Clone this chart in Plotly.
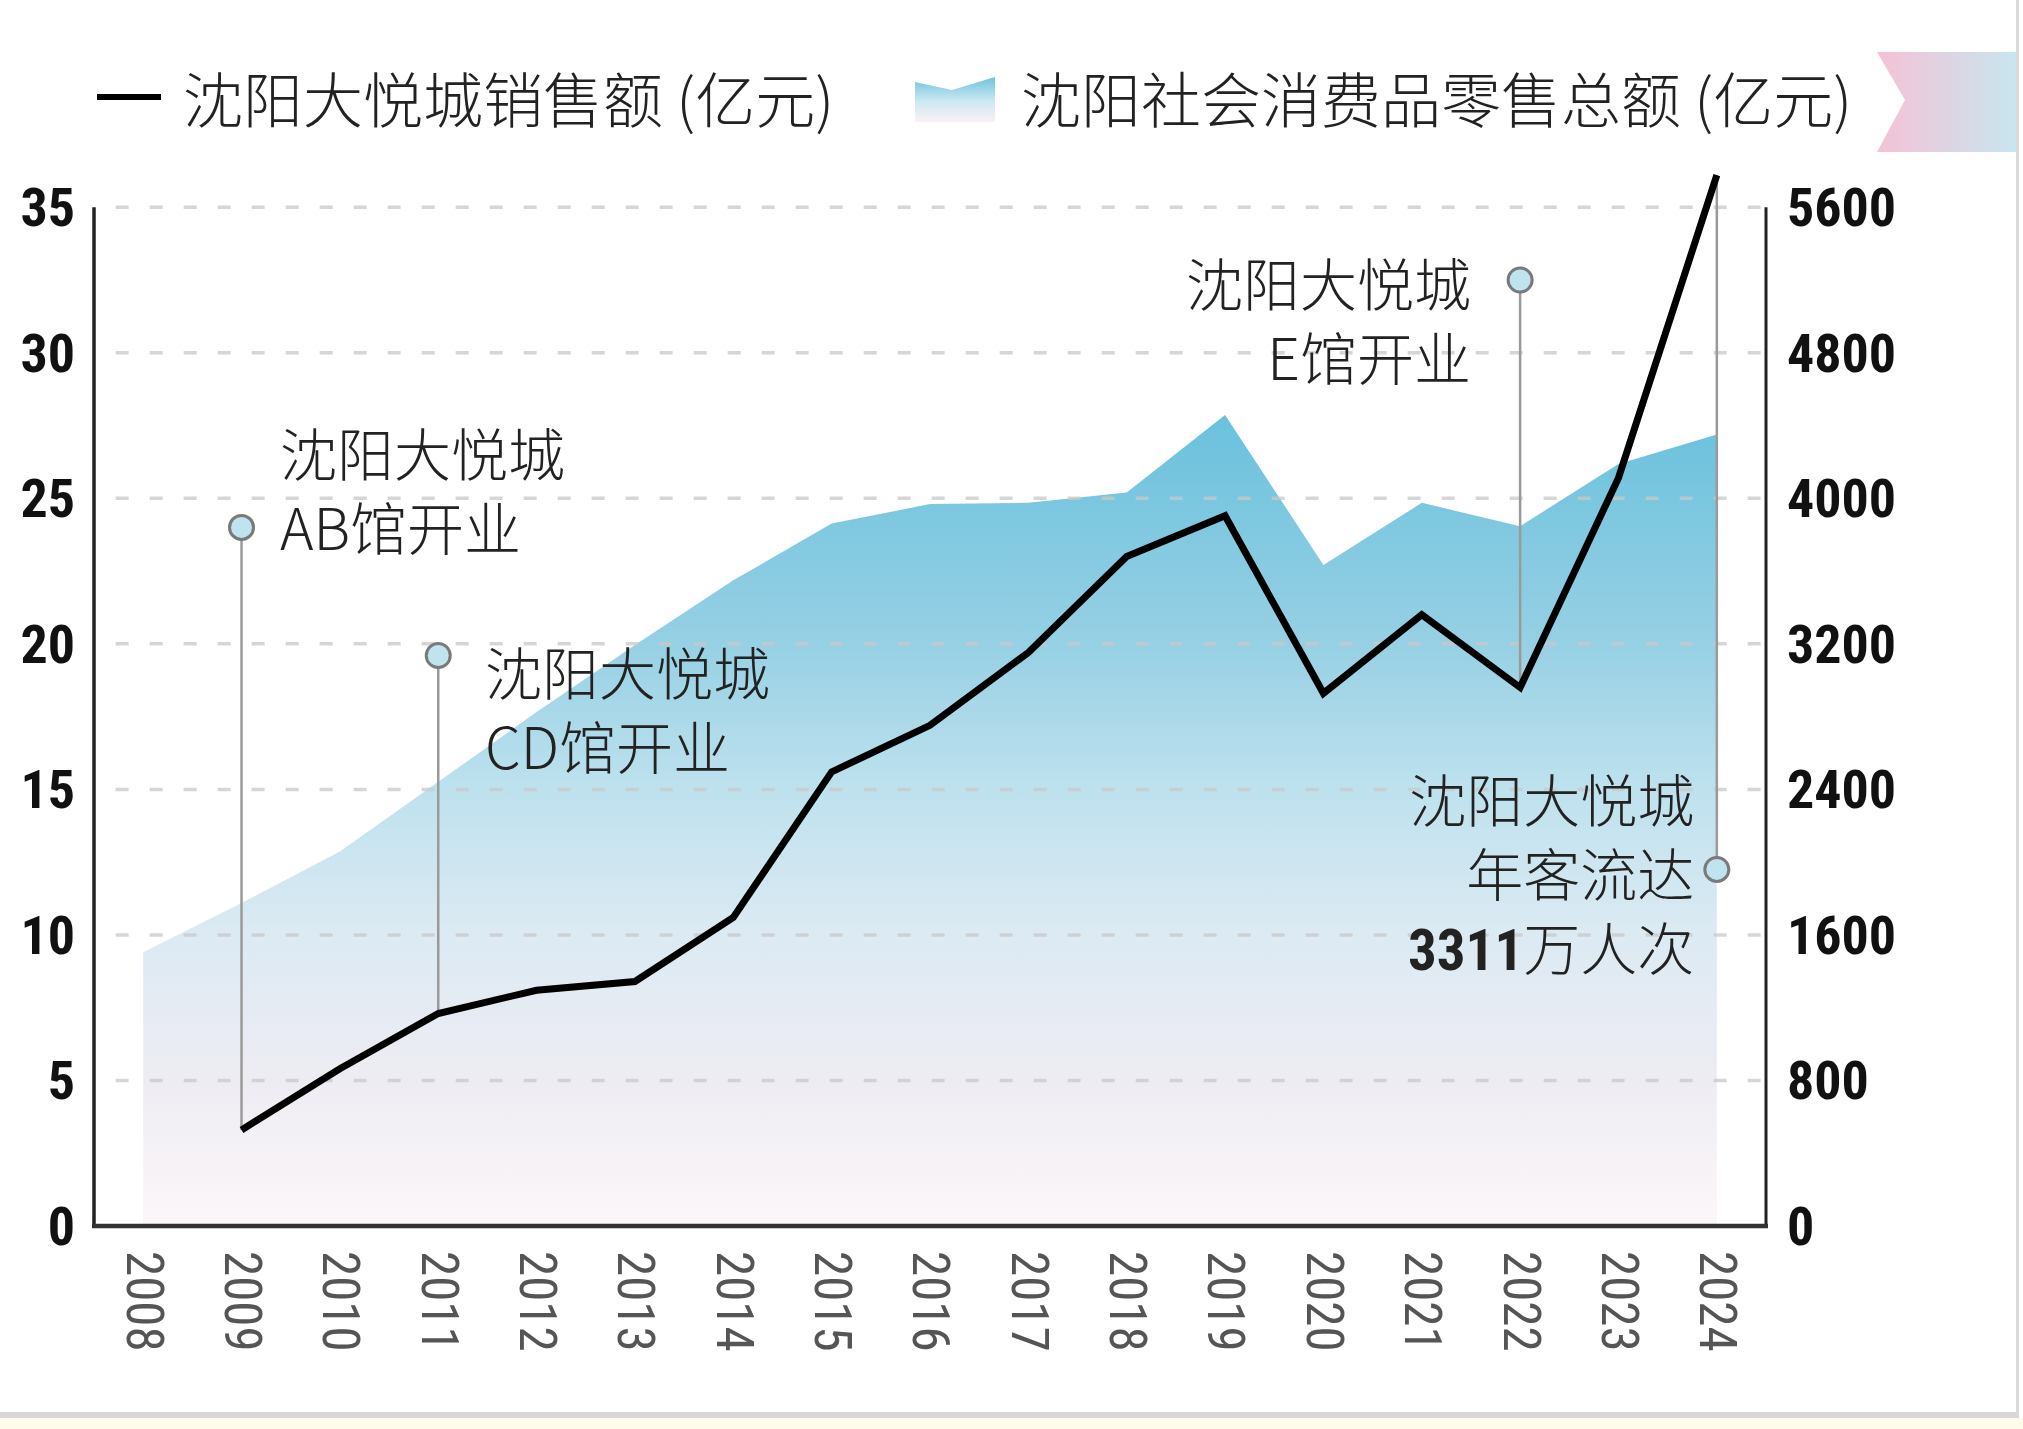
import base64
import plotly.graph_objects as go

# ---------------- data ----------------
years = list(range(2008, 2025))
mall_sales = [None, 3.3, 5.4, 7.3, 8.1, 8.4, 10.6, 15.6, 17.2, 19.7, 23.0, 24.4,
              18.3, 21.0, 18.5, 25.7, 36.1]          # 沈阳大悦城销售额 (亿元)
retail_total = [1505, 1775, 2058, 2442, 2825, 3194, 3549, 3861, 3968, 3975, 4032,
                4458, 3634, 3975, 3847, 4188, 4351]  # 沈阳社会消费品零售总额 (亿元)

left_ticks = [0, 5, 10, 15, 20, 25, 30, 35]
right_ticks = [0, 800, 1600, 2400, 3200, 4000, 4800, 5600]

legend_labels = ["沈阳大悦城销售额 (亿元)", "沈阳社会消费品零售总额 (亿元)"]

NARROW = "Liberation Sans Narrow, Roboto Condensed, DejaVu Sans Condensed, Arial Narrow, sans-serif"

event_years = [2009, 2011, 2022, 2024]
event_marker_y = [24.0, 19.6, 32.5, 12.25]
event_texts = [
    ["沈阳大悦城", "AB馆开业"],
    ["沈阳大悦城", "CD馆开业"],
    ["沈阳大悦城", "E馆开业"],
    ["沈阳大悦城", "年客流达",
     "<span style='font-family:" + NARROW + ";font-weight:bold'>3311</span>万人次"],
]

# ---------------- geometry ----------------
W, H = 2023, 1429
ML, MR, MT, MB = 94, 257, 149, 203
PW, PH = W - ML - MR, H - MT - MB
LEFT_MAX = 37.0
RIGHT_MAX = LEFT_MAX * 160


def px(x):
    return (x - ML) / PW


def py(y):
    return (H - MB - y) / PH


CJK = "Noto Sans CJK SC"
TXT = "#222222"

fig = go.Figure()

# area (primary y, right side)
fig.add_trace(go.Scatter(
    x=years, y=retail_total, yaxis="y", mode="lines", line=dict(width=0),
    fill="tozeroy",
    fillgradient=dict(type="vertical", colorscale=[
        [0.0, "rgb(252,247,249)"],
        [0.18, "rgb(238,236,243)"],
        [0.36, "rgb(220,234,243)"],
        [0.54, "rgb(190,225,238)"],
        [0.72, "rgb(150,208,228)"],
        [1.0, "rgb(106,193,221)"],
    ]),
    hoverinfo="skip", showlegend=False,
))

# dashed grid lines drawn over the area
for t in right_ticks[1:]:
    fig.add_trace(go.Scatter(
        x=[2007.72, 2024.45], y=[t, t], yaxis="y", mode="lines",
        line=dict(color="rgba(200,200,200,0.75)", width=3.5, dash="13px,21px"),
        hoverinfo="skip", showlegend=False,
    ))

# connector lines (left axis)
sales_by_year = dict(zip(years, mall_sales))
for yr, my in zip(event_years, event_marker_y):
    fig.add_trace(go.Scatter(
        x=[yr, yr], y=[sales_by_year[yr], my], yaxis="y2", mode="lines",
        line=dict(color="#9a9a9a", width=2.5),
        hoverinfo="skip", showlegend=False,
    ))

# main line
fig.add_trace(go.Scatter(
    x=years, y=mall_sales, yaxis="y2", mode="lines",
    line=dict(color="#000000", width=7), connectgaps=False,
    hoverinfo="skip", showlegend=False,
))

# event markers
fig.add_trace(go.Scatter(
    x=event_years, y=event_marker_y, yaxis="y2", mode="markers",
    marker=dict(size=24, color="#bfe3ef", line=dict(color="#7a7a7a", width=3)),
    hoverinfo="skip", showlegend=False,
))

# ---------------- annotations ----------------
ann = []
placements = [
    (2009.37, 25.36, "left"),
    (2011.46, 17.84, "left"),
    (2021.52, 31.19, "right"),
    (2023.79, 12.20, "right"),
]
for lines, (ax_, yc, anchor) in zip(event_texts, placements):
    ann.append(dict(x=ax_, y=yc, xref="x", yref="y2", text="<br>".join(lines),
                    showarrow=False, xanchor=anchor, yanchor="middle", align=anchor,
                    font=dict(family=CJK, size=57, color=TXT, weight=300)))

# legend texts
ann.append(dict(x=px(181), y=py(97), xref="paper", yref="paper", text=legend_labels[0],
                showarrow=False, xanchor="left", yanchor="middle",
                font=dict(family=CJK, size=60, color=TXT, weight=300)))
ann.append(dict(x=px(1019), y=py(97), xref="paper", yref="paper", text=legend_labels[1],
                showarrow=False, xanchor="left", yanchor="middle",
                font=dict(family=CJK, size=60, color=TXT, weight=300)))

# ---------------- shapes ----------------
shapes = [
    # axes
    dict(type="line", xref="paper", yref="paper", x0=0, x1=0, y0=0, y1=35 / LEFT_MAX,
         line=dict(color="#222222", width=3.5)),
    dict(type="line", xref="paper", yref="paper", x0=1, x1=1, y0=0, y1=35 / LEFT_MAX,
         line=dict(color="#222222", width=3)),
    dict(type="line", xref="paper", yref="paper", x0=px(ML - 2), x1=px(ML + PW + 2), y0=0, y1=0,
         line=dict(color="#333333", width=4.5)),
    # legend line
    dict(type="line", xref="paper", yref="paper", x0=px(97), x1=px(161), y0=py(97), y1=py(97),
         line=dict(color="#000000", width=6)),
    # page frame
    dict(type="rect", xref="paper", yref="paper", x0=px(0), x1=px(W), y0=py(H), y1=py(1418),
         fillcolor="#fffbea", line=dict(width=0), layer="below"),
    dict(type="rect", xref="paper", yref="paper", x0=px(0), x1=px(2019), y0=py(1418), y1=py(1412),
         fillcolor="#d8d8da", line=dict(width=0)),
    dict(type="rect", xref="paper", yref="paper", x0=px(2016), x1=px(2019), y0=py(1418), y1=py(0),
         fillcolor="#dadada", line=dict(width=0)),
]


def svg_uri(svg):
    return "data:image/svg+xml;base64," + base64.b64encode(svg.encode("utf-8")).decode()


ribbon_svg = (
    "<svg xmlns='http://www.w3.org/2000/svg' width='140' height='100' viewBox='0 0 140 100' "
    "preserveAspectRatio='none'><defs><linearGradient id='g' x1='0' y1='0' x2='1' y2='0'>"
    "<stop offset='0' stop-color='#f4c2d6'/><stop offset='1' stop-color='#c8e6ef'/>"
    "</linearGradient></defs><path d='M0,0 L140,0 L140,100 L0,100 L28,48 Z' fill='url(#g)'/></svg>"
)
icon_svg = (
    "<svg xmlns='http://www.w3.org/2000/svg' width='80' height='45' viewBox='0 0 80 45' "
    "preserveAspectRatio='none'><defs><linearGradient id='g' x1='0' y1='0' x2='0' y2='1'>"
    "<stop offset='0' stop-color='#6cc3de'/><stop offset='0.55' stop-color='#cfe8f2'/>"
    "<stop offset='1' stop-color='#fbf1f5'/></linearGradient></defs>"
    "<path d='M0,5 L37,13 L80,0 L80,45 L0,45 Z' fill='url(#g)'/></svg>"
)
images = [
    dict(source=svg_uri(ribbon_svg), xref="paper", yref="paper", x=px(1877), y=py(52),
         sizex=140 / PW, sizey=100 / PH, xanchor="left", yanchor="top", sizing="stretch",
         layer="above"),
    dict(source=svg_uri(icon_svg), xref="paper", yref="paper", x=px(915), y=py(77),
         sizex=80 / PW, sizey=45 / PH, xanchor="left", yanchor="top", sizing="stretch",
         layer="above"),
]

fig.update_layout(
    width=W, height=H,
    margin=dict(l=ML, r=MR, t=MT, b=MB, pad=0),
    paper_bgcolor="white", plot_bgcolor="rgba(0,0,0,0)",
    showlegend=False,
    xaxis=dict(range=[2007.5, 2024.5], tickvals=years, tickangle=90,
               showgrid=False, zeroline=False, showline=False, ticks="",
               ticklabelstandoff=24,
               tickfont=dict(family=NARROW, size=51, color="#555555")),
    yaxis=dict(range=[0, RIGHT_MAX], side="right", tickvals=right_ticks,
               showgrid=False, zeroline=False, showline=False, ticks="",
               ticklabelstandoff=20,
               tickfont=dict(family=NARROW, size=54, color="#111111", weight="bold")),
    yaxis2=dict(range=[0, LEFT_MAX], side="left", overlaying="y", tickvals=left_ticks,
                showgrid=False, zeroline=False, showline=False, ticks="",
                ticklabelstandoff=18,
                tickfont=dict(family=NARROW, size=54, color="#111111", weight="bold")),
    annotations=ann,
    shapes=shapes,
    images=images,
)

fig.write_html("out.html")
